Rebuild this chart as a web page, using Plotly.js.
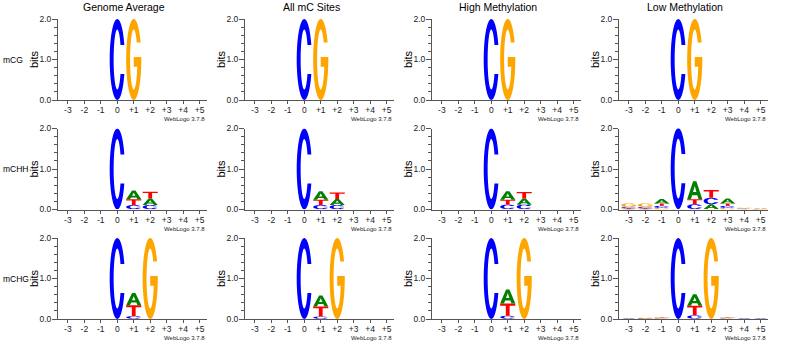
<!DOCTYPE html>
<html><head><meta charset="utf-8">
<script src="https://cdn.plot.ly/plotly-3.0.1.min.js"></script>
<style>html,body{margin:0;padding:0;background:#fff}#chart{width:800px;height:353px}</style>
</head><body><div id="chart"></div>
<script>
// ---------------- DATA (bits) ----------------
const positions = [-3, -2, -1, 0, 1, 2, 3, 4, 5];
const positionLabels = ['-3', '-2', '-1', '0', '+1', '+2', '+3', '+4', '+5'];
const columnTitles = ['Genome Average', 'All mC Sites', 'High Methylation', 'Low Methylation'];
const rowLabels = ['mCG', 'mCHH', 'mCHG'];
const yTickLabels = ['0.0', '1.0', '2.0'];
const versionLabel = 'WebLogo 3.7.8';

// mCG
const mCG_genome_A = [0, 0, 0, 0, 0, 0, 0, 0, 0];
const mCG_genome_C = [0, 0, 0, 2.0, 0, 0, 0, 0, 0];
const mCG_genome_G = [0, 0, 0, 0, 2.0, 0, 0, 0, 0];
const mCG_genome_T = [0, 0, 0, 0, 0, 0, 0, 0, 0];
const mCG_all_A = [0, 0, 0, 0, 0, 0, 0, 0, 0];
const mCG_all_C = [0, 0, 0, 2.0, 0, 0, 0, 0, 0];
const mCG_all_G = [0, 0, 0, 0, 2.0, 0, 0, 0, 0];
const mCG_all_T = [0, 0, 0, 0, 0, 0, 0, 0, 0];
const mCG_high_A = [0, 0, 0, 0, 0, 0, 0, 0, 0];
const mCG_high_C = [0, 0, 0, 2.0, 0, 0, 0, 0, 0];
const mCG_high_G = [0, 0, 0, 0, 2.0, 0, 0, 0, 0];
const mCG_high_T = [0, 0, 0, 0, 0, 0, 0, 0, 0];
const mCG_low_A = [0, 0, 0, 0, 0, 0, 0, 0, 0];
const mCG_low_C = [0, 0, 0, 2.0, 0, 0, 0, 0, 0];
const mCG_low_G = [0, 0, 0, 0, 2.0, 0, 0, 0, 0];
const mCG_low_T = [0, 0, 0, 0, 0, 0, 0, 0, 0];

// mCHH
const mCHH_genome_A = [0, 0, 0, 0, 0.22, 0.16, 0, 0, 0];
const mCHH_genome_C = [0, 0, 0, 2.0, 0.10, 0.10, 0, 0, 0];
const mCHH_genome_G = [0, 0, 0, 0, 0.01, 0.01, 0, 0, 0];
const mCHH_genome_T = [0, 0, 0, 0, 0.14, 0.17, 0, 0, 0];
const mCHH_all_A = [0, 0, 0, 0, 0.21, 0.15, 0, 0, 0];
const mCHH_all_C = [0, 0, 0, 2.0, 0.10, 0.10, 0, 0, 0];
const mCHH_all_G = [0, 0, 0, 0, 0.01, 0.01, 0, 0, 0];
const mCHH_all_T = [0, 0, 0, 0, 0.13, 0.16, 0, 0, 0];
const mCHH_high_A = [0, 0, 0, 0, 0.21, 0.15, 0, 0, 0];
const mCHH_high_C = [0, 0, 0, 2.0, 0.11, 0.11, 0, 0, 0];
const mCHH_high_G = [0, 0, 0, 0, 0.01, 0.01, 0, 0, 0];
const mCHH_high_T = [0, 0, 0, 0, 0.12, 0.16, 0, 0, 0];
const mCHH_low_A = [0.01, 0.01, 0.11, 0, 0.45, 0.12, 0.12, 0.01, 0.01];
const mCHH_low_C = [0.03, 0.03, 0.05, 2.0, 0.12, 0.16, 0.05, 0.01, 0.005];
const mCHH_low_G = [0.09, 0.09, 0.04, 0.01, 0.01, 0.01, 0.04, 0.02, 0.01];
const mCHH_low_T = [0.02, 0.02, 0.06, 0, 0.12, 0.19, 0.06, 0.005, 0.005];

// mCHG
const mCHG_genome_A = [0, 0, 0, 0, 0.30, 0, 0, 0, 0];
const mCHG_genome_C = [0, 0, 0, 2.0, 0.06, 0, 0, 0, 0];
const mCHG_genome_G = [0, 0, 0, 0, 0.01, 2.0, 0, 0, 0];
const mCHG_genome_T = [0, 0, 0, 0, 0.27, 0, 0, 0, 0];
const mCHG_all_A = [0, 0, 0, 0, 0.27, 0, 0, 0, 0];
const mCHG_all_C = [0, 0, 0, 2.0, 0.05, 0, 0, 0, 0];
const mCHG_all_G = [0, 0, 0, 0, 0.01, 2.0, 0, 0, 0];
const mCHG_all_T = [0, 0, 0, 0, 0.25, 0, 0, 0, 0];
const mCHG_high_A = [0, 0, 0, 0, 0.35, 0, 0, 0, 0];
const mCHG_high_C = [0, 0, 0, 2.0, 0.07, 0, 0, 0, 0];
const mCHG_high_G = [0, 0, 0, 0, 0.01, 2.0, 0, 0, 0];
const mCHG_high_T = [0, 0, 0, 0, 0.30, 0, 0, 0, 0];
const mCHG_low_A = [0.005, 0.01, 0.01, 0, 0.28, 0, 0.01, 0.005, 0.005];
const mCHG_low_C = [0.005, 0.005, 0.005, 2.0, 0.08, 0, 0.005, 0.005, 0.005];
const mCHG_low_G = [0.005, 0.01, 0.01, 0, 0.01, 2.0, 0.01, 0.005, 0.005];
const mCHG_low_T = [0.005, 0.005, 0.01, 0, 0.24, 0, 0.01, 0.005, 0.005];

const letters = ['A', 'C', 'G', 'T'];
const letterColors = { A: '#008000', C: '#0000FF', G: '#FFA500', T: '#FF0000' };

// panel table built from the named arrays (row, column)
const panelData = [
  [ {A: mCG_genome_A, C: mCG_genome_C, G: mCG_genome_G, T: mCG_genome_T},
    {A: mCG_all_A, C: mCG_all_C, G: mCG_all_G, T: mCG_all_T},
    {A: mCG_high_A, C: mCG_high_C, G: mCG_high_G, T: mCG_high_T},
    {A: mCG_low_A, C: mCG_low_C, G: mCG_low_G, T: mCG_low_T} ],
  [ {A: mCHH_genome_A, C: mCHH_genome_C, G: mCHH_genome_G, T: mCHH_genome_T},
    {A: mCHH_all_A, C: mCHH_all_C, G: mCHH_all_G, T: mCHH_all_T},
    {A: mCHH_high_A, C: mCHH_high_C, G: mCHH_high_G, T: mCHH_high_T},
    {A: mCHH_low_A, C: mCHH_low_C, G: mCHH_low_G, T: mCHH_low_T} ],
  [ {A: mCHG_genome_A, C: mCHG_genome_C, G: mCHG_genome_G, T: mCHG_genome_T},
    {A: mCHG_all_A, C: mCHG_all_C, G: mCHG_all_G, T: mCHG_all_T},
    {A: mCHG_high_A, C: mCHG_high_C, G: mCHG_high_G, T: mCHG_high_T},
    {A: mCHG_low_A, C: mCHG_low_C, G: mCHG_low_G, T: mCHG_low_T} ]
];

// ---------------- GLYPHS (unit box outlines) ----------------
function arc(cx, cy, rx, ry, d0, d1, n) {
  const pts = [];
  for (let i = 0; i <= n; i++) {
    const t = (d0 + (d1 - d0) * i / n) * Math.PI / 180;
    pts.push([cx + rx * Math.cos(t), cy + ry * Math.sin(t)]);
  }
  return pts;
}
const deg = r => r * 180 / Math.PI;
function glyphC() {
  const tx = 0.26, ty = 0.13, rxi = 0.5 - tx, ryi = 0.5 - ty, cut = 0.18;
  const to = deg(Math.asin(cut / 0.5)), ti = deg(Math.asin(cut / ryi));
  const outer = arc(0.5, 0.5, 0.5, 0.5, to, 360 - to, 60);
  const inner = arc(0.5, 0.5, rxi, ryi, 360 - ti, ti, 60);
  return [outer.concat(inner)];
}
function glyphG() {
  const tx = 0.26, ty = 0.13, rxi = 0.5 - tx, ryi = 0.5 - ty, cut = 0.21;
  const to = deg(Math.asin(cut / 0.5)), ti = deg(Math.asin(cut / ryi));
  const barTop = 0.53, barBot = 0.41, barLeft = 0.5;
  const ts = -deg(Math.asin((0.5 - barBot) / ryi));
  const outer = arc(0.5, 0.5, 0.5, 0.5, to, 360, 60);
  const bar = [[1, barTop], [barLeft, barTop], [barLeft, barBot], [1 - tx, barBot]];
  const inner = arc(0.5, 0.5, rxi, ryi, ts, ti - 360, 60);
  return [outer.concat(bar, inner)];
}
function glyphA() {
  return [
    [[0, 0], [0.39, 1], [0.61, 1], [1, 0], [0.75, 0], [0.67, 0.22], [0.33, 0.22], [0.25, 0]],
    [[0.39, 0.40], [0.61, 0.40], [0.5, 0.74]]
  ];
}
function glyphT() {
  return [[[0, 1], [1, 1], [1, 0.82], [0.625, 0.82], [0.625, 0], [0.375, 0], [0.375, 0.82], [0, 0.82]]];
}
const glyphs = { A: glyphA(), C: glyphC(), G: glyphG(), T: glyphT() };

function glyphPath(letter, xc, y0, h, w) {
  return glyphs[letter].map(ring =>
    'M' + ring.map(p => (xc - w / 2 + p[0] * w).toFixed(4) + ',' + (y0 + p[1] * h).toFixed(5)).join('L') + 'Z'
  ).join('');
}

// ---------------- LAYOUT ----------------
const W = 800, H = 353;
const colLeft = [58, 245, 432, 619], plotW = 149;
const rowTop = [19, 128.5, 238], plotH = 81;
const fontFam = 'Liberation Sans, Arial, Helvetica, sans-serif';
const axisColor = '#555';
const letterWidth = 0.92;

const traces = [], shapes = [], annotations = [];
const layout = {
  width: W, height: H, margin: { l: 0, r: 0, t: 0, b: 0 },
  paper_bgcolor: '#fff', plot_bgcolor: 'rgba(0,0,0,0)',
  showlegend: false, hovermode: 'closest',
  font: { family: fontFam, color: '#000' }
};

columnTitles.forEach((t, c) => {
  annotations.push({ text: t, xref: 'paper', yref: 'paper', x: (124 + 187 * c) / W, y: 1 - 6.5 / H,
    xanchor: 'center', yanchor: 'middle', showarrow: false, font: { size: 10.5, color: '#000' } });
});
rowLabels.forEach((t, r) => {
  annotations.push({ text: t, xref: 'paper', yref: 'paper', x: 1 / W, y: 1 - (rowTop[r] + 40.5) / H,
    xanchor: 'left', yanchor: 'middle', showarrow: false, font: { size: 8.5, color: '#000' } });
});

for (let r = 0; r < 3; r++) {
  for (let c = 0; c < 4; c++) {
    const idx = r * 4 + c + 1;
    const xa = 'x' + (idx === 1 ? '' : idx), ya = 'y' + (idx === 1 ? '' : idx);
    const xk = 'xaxis' + (idx === 1 ? '' : idx), yk = 'yaxis' + (idx === 1 ? '' : idx);
    layout[xk] = {
      domain: [colLeft[c] / W, (colLeft[c] + plotW) / W],
      range: [-3.6, 5.45], anchor: ya, fixedrange: true,
      tickmode: 'array', tickvals: positions, ticktext: positionLabels,
      ticks: 'outside', ticklen: 3, tickcolor: axisColor, tickwidth: 1,
      ticklabelstandoff: -1,
      showline: true, linecolor: axisColor, linewidth: 1,
      showgrid: false, zeroline: false,
      tickfont: { size: 8.5, color: '#222' }
    };
    layout[yk] = {
      domain: [1 - (rowTop[r] + plotH) / H, 1 - rowTop[r] / H],
      range: [0, 2], anchor: xa, fixedrange: true,
      tickmode: 'array', tickvals: [0, 1, 2], ticktext: yTickLabels,
      ticks: 'outside', ticklen: 5, tickcolor: axisColor, tickwidth: 1,
      ticklabelstandoff: -1,
      minor: { tickmode: 'linear', tick0: 0, dtick: 0.2, ticks: 'outside', ticklen: 3, tickcolor: axisColor, showgrid: false },
      showline: true, linecolor: axisColor, linewidth: 1,
      showgrid: false, zeroline: false,
      tickfont: { size: 8.5, color: '#222' }
    };

    const d = panelData[r][c];
    const totals = positions.map((_, i) => letters.reduce((s, L) => s + d[L][i], 0));
    traces.push({
      type: 'scatter', mode: 'markers', x: positions, y: totals, xaxis: xa, yaxis: ya,
      marker: { size: 10, opacity: 0 },
      text: positions.map((_, i) => letters.map(L => L + ': ' + d[L][i].toFixed(2)).join('<br>')),
      hovertemplate: rowLabels[r] + ' / ' + columnTitles[c] + '<br>pos %{x}<br>%{text}<extra></extra>'
    });

    positions.forEach((p, i) => {
      const stack = letters.map(L => ({ L, h: d[L][i] })).filter(o => o.h > 0).sort((a, b) => a.h - b.h);
      let base = 0;
      stack.forEach(o => {
        shapes.push({
          type: 'path', xref: xa, yref: ya, layer: 'above',
          path: glyphPath(o.L, p, base, o.h, letterWidth),
          fillcolor: letterColors[o.L], fillrule: 'evenodd', line: { width: 0 }
        });
        base += o.h;
      });
    });

    annotations.push({ text: 'bits', xref: 'paper', yref: 'paper', x: (colLeft[c] - 24.5) / W, y: 1 - (rowTop[r] + 40.5) / H,
      xanchor: 'center', yanchor: 'middle', textangle: -90, showarrow: false, font: { size: 11, color: '#000' } });
    annotations.push({ text: versionLabel, xref: 'paper', yref: 'paper', x: (colLeft[c] + plotW) / W, y: 1 - (rowTop[r] + plotH + 19) / H,
      xanchor: 'right', yanchor: 'middle', showarrow: false, font: { size: 6, color: '#222' } });
  }
}
layout.shapes = shapes;
layout.annotations = annotations;

Plotly.newPlot('chart', traces, layout, { displayModeBar: false });
</script>
</body></html>
